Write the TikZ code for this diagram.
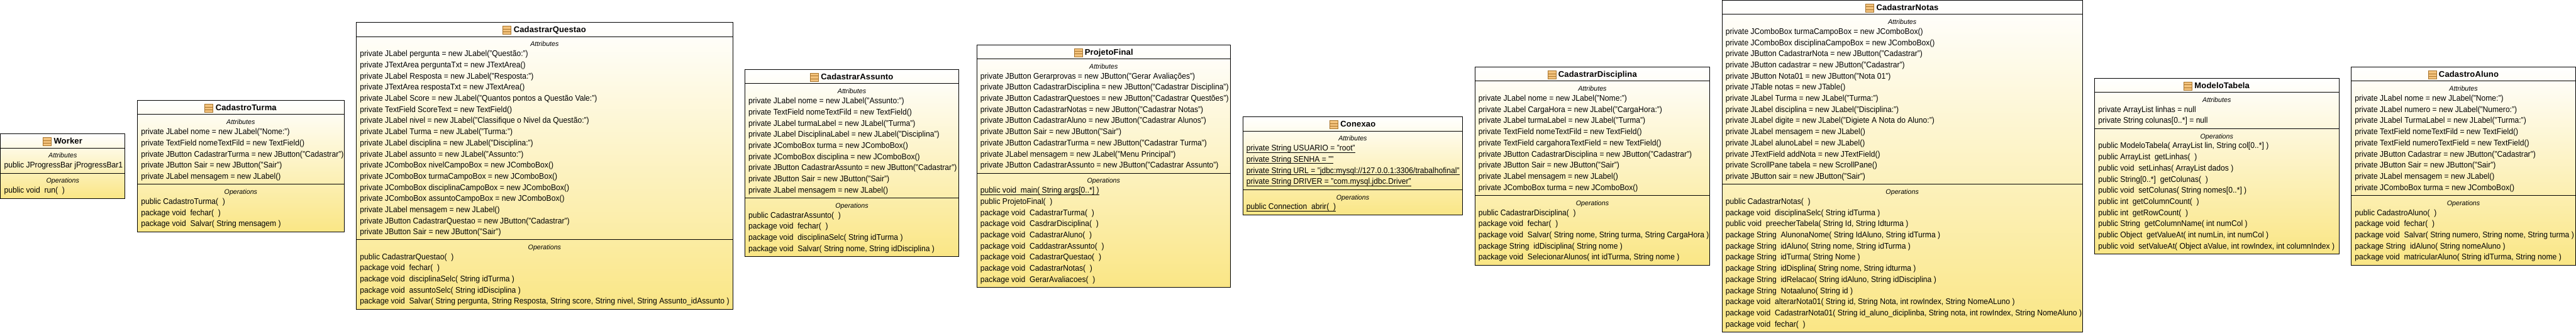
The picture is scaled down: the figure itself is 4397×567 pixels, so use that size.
\documentclass[tikz,border=0pt]{standalone}
\usepackage{fontspec}
\setmainfont{Liberation Sans}
\definecolor{umlbottom}{HTML}{FAE685}
\definecolor{iconfill}{HTML}{F3C27C}
\definecolor{iconline}{HTML}{A8742C}
\tikzset{
  umlbody/.style={draw=black,line width=1pt,inner sep=0pt,top color=white,bottom color=umlbottom},
  umlrule/.style={draw=black,line width=1pt},
  umltitle/.style={anchor=base,inner sep=0pt,font=\fontsize{14}{14}\selectfont\bfseries\addfontfeature{LetterSpace=1}},
  umlsec/.style={anchor=base,inner sep=0pt,font=\fontsize{11.5}{11.5}\selectfont\itshape},
  umltext/.style={anchor=base west,inner sep=0pt,font=\fontsize{14}{14}\selectfont\addfontfeature{FakeStretch=0.93}},
  umlicon/.style={draw=iconline,fill=iconfill,line width=0.8pt}
}
\newcount\lncnt
\newsavebox\umlubox
\newcommand\umlu[1]{\sbox\umlubox{#1}\rlap{\rule[-3pt]{\wd\umlubox}{0.8pt}}\usebox\umlubox}
\newcommand\umlclass[8]{%
  \def\cn{#1}\def\xl{#2}\def\xr{#3}\def\yh{#5}\def\ys{#6}\lncnt=0
  \pgfmathsetmacro\xc{(#2+#3)/2}%
  \node[umlbody,minimum width={(#3-#2)*1pt},minimum height={(#7-#4)*1pt}] (#1) at (\xc,{-(#4+#7)/2}) {};
  \draw[umlrule] (#2,-#5) -- (#3,-#5);
  \draw[umlrule] (#2,-#6) -- (#3,-#6);
  \node[umltitle] (#1-title) at ({\xc+9},{-(#4+#5)/2-5.4}) {#8};
  \path[umlicon] ([shift={(-18,-3)}]#1-title.base west) rectangle ++(14,14);
  \draw[iconline,line width=0.8pt] ([shift={(-18,1.6)}]#1-title.base west) -- ++(14,0);
  \draw[iconline,line width=0.8pt] ([shift={(-18,6.2)}]#1-title.base west) -- ++(14,0);
}
\newcommand\umlsect[2]{%
  \advance\lncnt by 1
  \node[umlsec] (\cn-\the\lncnt) at (\xc,{-(#1+17)}) {#2};
  \pgfmathsetmacro\cury{#1+34}%
}
\newcommand\umlline[1]{%
  \advance\lncnt by 1
  \node[umltext] (\cn-\the\lncnt) at ({\xl+6},-\cury) {#1};
  \pgfmathsetmacro\cury{\cury+19}%
}
\begin{document}
\begin{tikzpicture}[x=1pt,y=1pt]
\useasboundingbox (0,0) rectangle (4397,-567);

\umlclass{Worker}{0.8}{213.5}{228.3}{252.3}{295.3}{338.3}{Worker}
\umlsect{252.3}{Attributes}
\umlline{public JProgressBar jProgressBar1}
\umlsect{295.3}{Operations}
\umlline{public void~~run(~~)}

\umlclass{CadastroTurma}{234.6}{587.4}{171.7}{195.3}{314.3}{395.3}{CadastroTurma}
\umlsect{195.3}{Attributes}
\umlline{private JLabel nome = new JLabel("Nome:")}
\umlline{private TextField nomeTextFild = new TextField()}
\umlline{private JButton CadastrarTurma = new JButton("Cadastrar")}
\umlline{private JButton Sair = new JButton("Sair")}
\umlline{private JLabel mensagem = new JLabel()}
\umlsect{314.3}{Operations}
\umlline{public CadastroTurma(~~)}
\umlline{package void~~fechar(~~)}
\umlline{package void~~Salvar( String mensagem )}

\umlclass{CadastrarQuestao}{608.3}{1250.7}{38.3}{62.3}{408.3}{528}{CadastrarQuestao}
\umlsect{62.3}{Attributes}
\umlline{private JLabel pergunta = new JLabel("Questão:")}
\umlline{private JTextArea perguntaTxt = new JTextArea()}
\umlline{private JLabel Resposta = new JLabel("Resposta:")}
\umlline{private JTextArea respostaTxt = new JTextArea()}
\umlline{private JLabel Score = new JLabel("Quantos pontos a Questão Vale:")}
\umlline{private TextField ScoreText = new TextField()}
\umlline{private JLabel nivel = new JLabel("Classifique o Nivel da Questão:")}
\umlline{private JLabel Turma = new JLabel("Turma:")}
\umlline{private JLabel disciplina = new JLabel("Disciplina:")}
\umlline{private JLabel assunto = new JLabel("Assunto:")}
\umlline{private JComboBox nivelCampoBox = new JComboBox()}
\umlline{private JComboBox turmaCampoBox = new JComboBox()}
\umlline{private JComboBox disciplinaCampoBox = new JComboBox()}
\umlline{private JComboBox assuntoCampoBox = new JComboBox()}
\umlline{private JLabel mensagem = new JLabel()}
\umlline{private JButton CadastrarQuestao = new JButton("Cadastrar")}
\umlline{private JButton Sair = new JButton("Sair")}
\umlsect{408.3}{Operations}
\umlline{public CadastrarQuestao(~~)}
\umlline{package void~~fechar(~~)}
\umlline{package void~~disciplinaSelc( String idTurma )}
\umlline{package void~~assuntoSelc( String idDisciplina )}
\umlline{package void~~Salvar( String pergunta, String Resposta, String score, String nivel, String Assunto\_idAssunto )}

\umlclass{CadastrarAssunto}{1271.3}{1636.7}{118.3}{142.7}{337.7}{437.3}{CadastrarAssunto}
\umlsect{142.7}{Attributes}
\umlline{private JLabel nome = new JLabel("Assunto:")}
\umlline{private TextField nomeTextFild = new TextField()}
\umlline{private JLabel turmaLabel = new JLabel("Turma")}
\umlline{private JLabel DisciplinaLabel = new JLabel("Disciplina")}
\umlline{private JComboBox turma = new JComboBox()}
\umlline{private JComboBox disciplina = new JComboBox()}
\umlline{private JButton CadastrarAssunto = new JButton("Cadastrar")}
\umlline{private JButton Sair = new JButton("Sair")}
\umlline{private JLabel mensagem = new JLabel()}
\umlsect{337.7}{Operations}
\umlline{public CadastrarAssunto(~~)}
\umlline{package void~~fechar(~~)}
\umlline{package void~~disciplinaSelc( String idTurma )}
\umlline{package void~~Salvar( String nome, String idDisciplina )}

\umlclass{ProjetoFinal}{1667.3}{2100.3}{76.3}{100.3}{295.3}{490.3}{ProjetoFinal}
\umlsect{100.3}{Attributes}
\umlline{private JButton Gerarprovas = new JButton("Gerar Avaliações")}
\umlline{private JButton CadastrarDisciplina = new JButton("Cadastrar Disciplina")}
\umlline{private JButton CadastrarQuestoes = new JButton("Cadastrar Questões")}
\umlline{private JButton CadastrarNotas = new JButton("Cadastrar Notas")}
\umlline{private JButton CadastrarAluno = new JButton("Cadastrar Alunos")}
\umlline{private JButton Sair = new JButton("Sair")}
\umlline{private JButton CadastrarTurma = new JButton("Cadastrar Turma")}
\umlline{private JLabel mensagem = new JLabel("Menu Principal")}
\umlline{private JButton CadastrarAssunto = new JButton("Cadastrar Assunto")}
\umlsect{295.3}{Operations}
\umlline{\umlu{public void~~main( String args[0..*] )}}
\umlline{public ProjetoFinal(~~)}
\umlline{package void~~CadastrarTurma(~~)}
\umlline{package void~~CasdrarDisciplina(~~)}
\umlline{package void~~CadastrarAluno(~~)}
\umlline{package void~~CaddastrarAssunto(~~)}
\umlline{package void~~CadastrarQuestao(~~)}
\umlline{package void~~CadastrarNotas(~~)}
\umlline{package void~~GerarAvaliacoes(~~)}

\umlclass{Conexao}{2121.3}{2496.7}{199.3}{223.3}{323.3}{366.3}{Conexao}
\umlsect{223.3}{Attributes}
\umlline{\umlu{private String USUARIO = "root"}}
\umlline{\umlu{private String SENHA = ""}}
\umlline{\umlu{private String URL = "jdbc:mysql://127.0.0.1:3306/trabalhofinal"}}
\umlline{\umlu{private String DRIVER = "com.mysql.jdbc.Driver"}}
\umlsect{323.3}{Operations}
\umlline{\umlu{public Connection~~abrir(~~)}}

\umlclass{CadastrarDisciplina}{2517.3}{2918.7}{114.3}{138.3}{333.3}{452.3}{CadastrarDisciplina}
\umlsect{138.3}{Attributes}
\umlline{private JLabel nome = new JLabel("Nome:")}
\umlline{private JLabel CargaHora = new JLabel("CargaHora:")}
\umlline{private JLabel turmaLabel = new JLabel("Turma")}
\umlline{private TextField nomeTextFild = new TextField()}
\umlline{private TextField cargahoraTextField = new TextField()}
\umlline{private JButton CadastrarDisciplina = new JButton("Cadastrar")}
\umlline{private JButton Sair = new JButton("Sair")}
\umlline{private JLabel mensagem = new JLabel()}
\umlline{private JComboBox turma = new JComboBox()}
\umlsect{333.3}{Operations}
\umlline{public CadastrarDisciplina(~~)}
\umlline{package void~~fechar(~~)}
\umlline{package void~~Salvar( String nome, String turma, String CargaHora )}
\umlline{package String~~idDisciplina( String nome )}
\umlline{package void~~SelecionarAlunos( int idTurma, String nome )}

\umlclass{CadastrarNotas}{2939.3}{3554.5}{0.6}{24.3}{314.3}{566}{CadastrarNotas}
\umlsect{24.3}{Attributes}
\umlline{private JComboBox turmaCampoBox = new JComboBox()}
\umlline{private JComboBox disciplinaCampoBox = new JComboBox()}
\umlline{private JButton CadastrarNota = new JButton("Cadastrar")}
\umlline{private JButton cadastrar = new JButton("Cadastrar")}
\umlline{private JButton Nota01 = new JButton("Nota 01")}
\umlline{private JTable notas = new JTable()}
\umlline{private JLabel Turma = new JLabel("Turma:")}
\umlline{private JLabel disciplina = new JLabel("Disciplina:")}
\umlline{private JLabel digite = new JLabel("Digiete A Nota do Aluno:")}
\umlline{private JLabel mensagem = new JLabel()}
\umlline{private JLabel alunoLabel = new JLabel()}
\umlline{private JTextField addNota = new JTextField()}
\umlline{private ScrollPane tabela = new ScrollPane()}
\umlline{private JButton sair = new JButton("Sair")}
\umlsect{314.3}{Operations}
\umlline{public CadastrarNotas(~~)}
\umlline{package void~~disciplinaSelc( String idTurma )}
\umlline{public void~~preecherTabela( String Id, String Idturma )}
\umlline{package String~~AlunonaNome( String IdAluno, String idTurma )}
\umlline{package String~~idAluno( String nome, String idTurma )}
\umlline{package String~~idTurma( String Nome )}
\umlline{package String~~idDisplina( String nome, String idturma )}
\umlline{package String~~idRelacao( String idAluno, String idDisciplina )}
\umlline{package String~~Notaaluno( String id )}
\umlline{package void~~alterarNota01( String id, String Nota, int rowIndex, String NomeALuno )}
\umlline{package void~~CadastrarNota01( String id\_aluno\_diciplinba, String nota, int rowIndex, String NomeAluno )}
\umlline{package void~~fechar(~~)}

\umlclass{ModeloTabela}{3575.3}{3992.3}{133.3}{157.3}{219.3}{433.3}{ModeloTabela}
\umlsect{157.3}{Attributes}
\umlline{private ArrayList linhas = null}
\umlline{private String colunas[0..*] = null}
\umlsect{219.3}{Operations}
\umlline{public ModeloTabela( ArrayList lin, String col[0..*] )}
\umlline{public ArrayList~~getLinhas(~~)}
\umlline{public void~~setLinhas( ArrayList dados )}
\umlline{public String[0..*]~~getColunas(~~)}
\umlline{public void~~setColunas( String nomes[0..*] )}
\umlline{public int~~getColumnCount(~~)}
\umlline{public int~~getRowCount(~~)}
\umlline{public String~~getColumnName( int numCol )}
\umlline{public Object~~getValueAt( int numLin, int numCol )}
\umlline{public void~~setValueAt( Object aValue, int rowIndex, int columnIndex )}

\umlclass{CadastroAluno}{4013.3}{4396.5}{114.3}{138.3}{333.3}{452}{CadastroAluno}
\umlsect{138.3}{Attributes}
\umlline{private JLabel nome = new JLabel("Nome:")}
\umlline{private JLabel numero = new JLabel("Numero:")}
\umlline{private JLabel TurmaLabel = new JLabel("Turma:")}
\umlline{private TextField nomeTextFild = new TextField()}
\umlline{private TextField numeroTextField = new TextField()}
\umlline{private JButton Cadastrar = new JButton("Cadastrar")}
\umlline{private JButton Sair = new JButton("Sair")}
\umlline{private JLabel mensagem = new JLabel()}
\umlline{private JComboBox turma = new JComboBox()}
\umlsect{333.3}{Operations}
\umlline{public CadastroAluno(~~)}
\umlline{package void~~fechar(~~)}
\umlline{package void~~Salvar( String numero, String nome, String turma )}
\umlline{package String~~idAluno( String nomeAluno )}
\umlline{package void~~matricularAluno( String idTurma, String nome )}
\end{tikzpicture}
\end{document}
